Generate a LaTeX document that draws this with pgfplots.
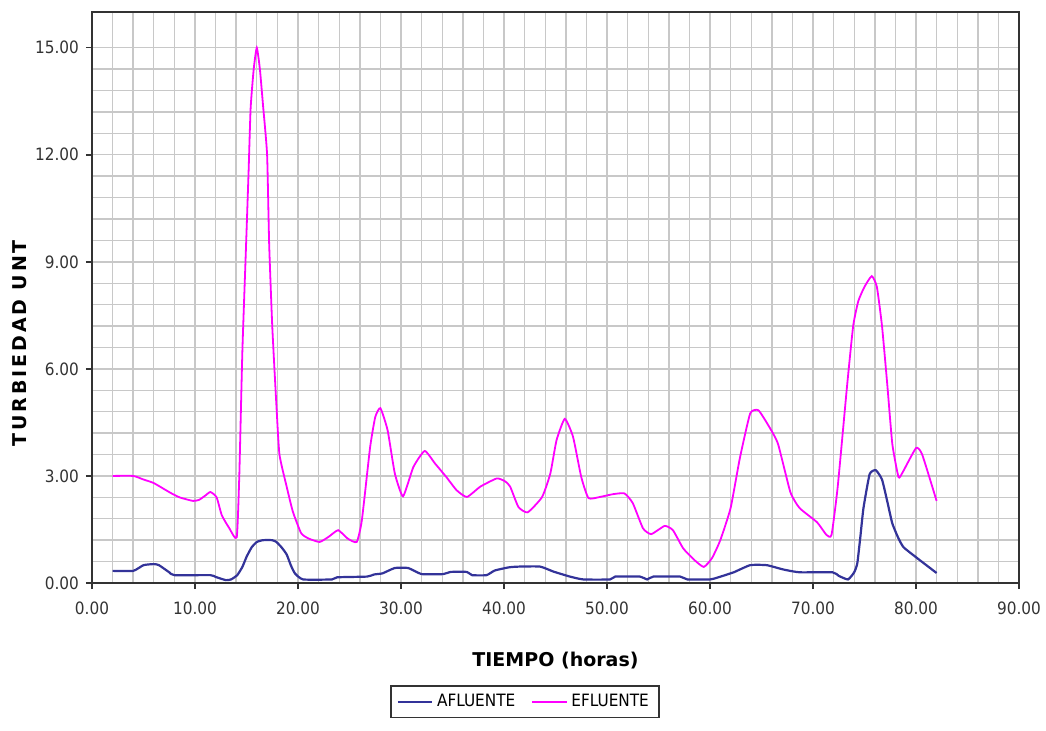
\documentclass[border=0pt]{standalone}
\usepackage{fontspec}
\setmainfont{DejaVu Sans Condensed}
\newfontfamily\labfont{DejaVu Sans}
\usepackage{pgfplots}
\pgfplotsset{compat=1.18}

\definecolor{afl}{HTML}{333399}
\definecolor{efl}{HTML}{FF00FF}
\definecolor{gridc}{HTML}{C8C8C8}

\begin{document}
\begin{tikzpicture}
\path[use as bounding box] (0,0) rectangle (523pt,365pt);
\begin{axis}[
    at={(46pt,73.5pt)}, anchor=south west,
    scale only axis,
    width=463.5pt, height=285.5pt,
    xmin=0, xmax=90, ymin=0, ymax=16,
    xtick={0,10,...,90},
    ytick={0,3,...,15},
    minor x tick num=4,
    minor y tick num=4,
    grid=both,
    major grid style={gridc, line width=0.7pt},
    minor grid style={gridc, line width=0.7pt},
    axis line style={black!80, line width=0.9pt},
    tick pos=left, tick align=outside,
    major tick length=3pt, minor tick length=0pt,
    tick style={black!80, line width=0.8pt},
    /pgf/number format/.cd, fixed, fixed zerofill, precision=2, assume math mode=true,
    /pgfplots/.cd,
    tick label style={font=\fontsize{8.5}{10}\selectfont, text=black!80},
    xticklabel style={yshift=-3pt},
    xlabel={TIEMPO (horas)},
    ylabel={\addfontfeatures{LetterSpace=15}TURBIEDAD UNT},
    xlabel style={font=\labfont\bfseries\fontsize{9.5}{11}\selectfont, at={(axis description cs:0.5,-0.135)}, anchor=center},
    ylabel style={font=\labfont\bfseries\fontsize{9.5}{11}\selectfont, at={(axis description cs:-0.0777,0.42)}, anchor=center},
    legend columns=2,
    legend style={at={(axis description cs:0.467,-0.208)}, anchor=center,
        draw=black!80, line width=0.8pt, font=\fontsize{8.5}{10}\selectfont,
        /tikz/every even column/.append style={column sep=6pt}},
    legend image post style={line width=1pt},
]
\addplot[afl, line width=1.1pt, smooth, tension=0.3] coordinates {
(2,0.34)(4,0.34)(5,0.5)(6,0.53)(6.5,0.5)(7.5,0.3)(8,0.22)(11.5,0.22)(12,0.17)(13,0.08)(13.5,0.1)(14.1,0.22)(14.6,0.45)(15,0.73)(15.5,1.0)(16,1.15)(16.6,1.2)(17.5,1.2)(17.9,1.15)(18.4,1.0)(18.9,0.8)(19.3,0.5)(19.7,0.27)(20.5,0.1)(23.3,0.1)(23.8,0.16)(26.7,0.18)(27.4,0.24)(28.2,0.27)(29.4,0.42)(30.7,0.42)(32,0.25)(34.1,0.25)(34.8,0.31)(36.4,0.31)(36.9,0.22)(38.3,0.22)(39.1,0.35)(40.5,0.44)(41.5,0.46)(43.5,0.46)(44.8,0.32)(46.4,0.18)(47.7,0.1)(50.3,0.1)(50.8,0.18)(53.2,0.18)(53.9,0.1)(54.5,0.18)(57.1,0.18)(57.8,0.1)(60,0.1)(60.7,0.15)(62.3,0.3)(63.9,0.5)(65.5,0.5)(67.1,0.38)(68.7,0.3)(71.9,0.3)(72.5,0.2)(73.4,0.1)(74,0.3)(74.3,0.55)(74.6,1.3)(74.9,2.1)(75.5,3.05)(76.1,3.16)(76.7,2.9)(77.2,2.3)(77.7,1.67)(78.3,1.25)(78.8,1.0)(80.1,0.7)(81,0.5)(82,0.28)
};
\addlegendentry{AFLUENTE}
\addplot[efl, line width=0.9pt, smooth, tension=0.3] coordinates {
(2,3.0)(4,3.0)(5,2.9)(6,2.8)(7.6,2.53)(8.5,2.4)(9.8,2.3)(10.4,2.33)(11,2.45)(11.5,2.55)(12.1,2.4)(12.6,1.9)(13.3,1.55)(14.05,1.28)(14.3,3.0)(14.6,6.5)(14.95,9.4)(15.2,11.5)(15.4,13.3)(15.7,14.4)(16,15.0)(16.3,14.4)(16.6,13.4)(17,12.0)(17.2,9.5)(17.5,7.2)(17.9,5.0)(18.2,3.6)(18.9,2.7)(19.5,2.0)(20.3,1.4)(21,1.25)(22.1,1.15)(23,1.3)(23.9,1.48)(24.8,1.25)(25.7,1.15)(26.2,1.76)(27,3.8)(27.5,4.65)(28,4.9)(28.7,4.28)(29.4,3.07)(30.2,2.43)(31.2,3.25)(32.3,3.7)(33.3,3.35)(34.4,2.97)(35.4,2.6)(36.4,2.41)(37.7,2.7)(39.3,2.93)(40.1,2.85)(40.6,2.7)(41.4,2.13)(42.3,1.98)(43.7,2.41)(44.5,3.07)(45.1,4.0)(45.9,4.6)(46.7,4.1)(47.5,2.97)(48.2,2.38)(49.3,2.41)(50.6,2.49)(51.7,2.51)(52.5,2.24)(53.5,1.53)(54.3,1.37)(55.6,1.6)(56.4,1.48)(57.4,0.97)(58.5,0.64)(59.4,0.45)(60.2,0.7)(61,1.2)(62,2.1)(62.9,3.5)(63.9,4.75)(64.7,4.84)(65.7,4.4)(66.6,3.9)(67.8,2.55)(68.7,2.1)(70.4,1.7)(71.3,1.35)(71.8,1.35)(72.4,2.7)(73.3,5.5)(73.9,7.2)(74.4,7.9)(75,8.3)(75.7,8.6)(76.2,8.3)(76.7,7.2)(77.2,5.6)(77.7,3.9)(78.3,2.97)(78.7,3.1)(80,3.78)(80.6,3.6)(82,2.3)
};
\addlegendentry{EFLUENTE}
\end{axis}
\end{tikzpicture}
\end{document}
